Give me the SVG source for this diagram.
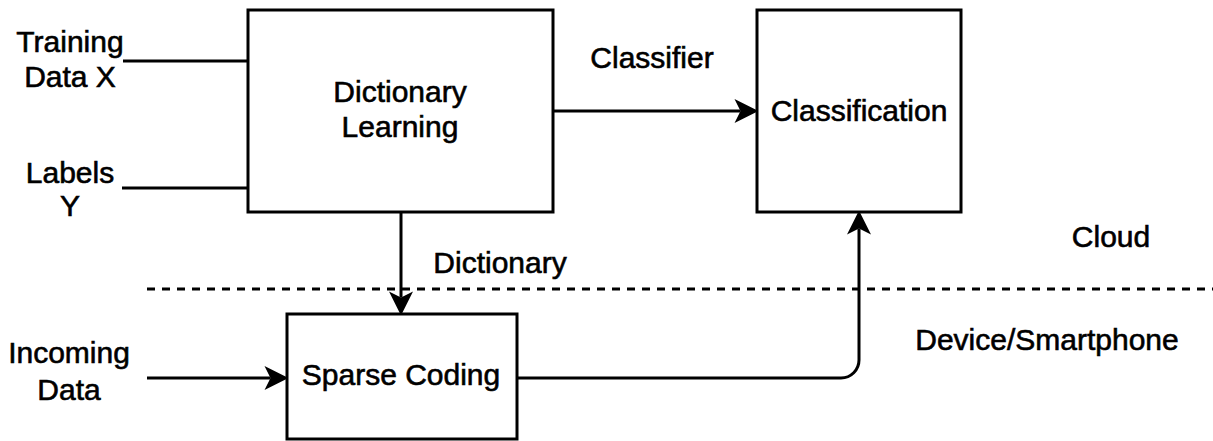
<svg xmlns="http://www.w3.org/2000/svg" width="1213" height="441" viewBox="0 0 1213 441">
<style>
text{font-family:"Liberation Sans",Arial,Helvetica,sans-serif;font-size:30px;fill:#000;stroke:#000;stroke-width:0.6;text-anchor:middle}
.box{fill:#fff;stroke:#000;stroke-width:3}
.ln{fill:none;stroke:#000;stroke-width:3}
.arr{marker-end:url(#ah)}
.dash{fill:none;stroke:#000;stroke-width:3.2;stroke-dasharray:8 7}
</style>
<defs>
<marker id="ah" markerUnits="userSpaceOnUse" markerWidth="24" markerHeight="24" viewBox="0 0 22 22" refX="5.5" refY="11" orient="auto" overflow="visible">
<path d="M0,0 L22,11 L0,22 L5.5,11 Z" fill="#000"/>
</marker>
</defs>
<rect width="1213" height="441" fill="#fff"/>
<g id="connectors">
<path class="ln" d="M123,61 H248"/>
<path class="ln" d="M122,188 H248"/>
<path class="ln arr" d="M553,111 H740.5"/>
<path class="ln arr" d="M401,212 V297.5"/>
<path class="ln arr" d="M147,378 H270.5"/>
<path class="ln arr" d="M517,378 H841 A18,18 0 0 0 859,360 V228.5"/>
<path class="dash" d="M147,289 H1213"/>
</g>
<g id="dictionary-learning">
<rect class="box" x="248" y="10" width="305" height="202"/>
<text x="400" y="102">Dictionary</text>
<text x="400" y="137">Learning</text>
</g>
<g id="classification">
<rect class="box" x="757" y="10" width="204" height="202"/>
<text x="859" y="121">Classification</text>
</g>
<g id="sparse-coding">
<rect class="box" x="287" y="314" width="230" height="125"/>
<text x="401" y="385">Sparse Coding</text>
</g>
<g id="labels">
<text x="70" y="52">Training</text>
<text x="70" y="87">Data X</text>
<text x="70" y="183">Labels</text>
<text x="70" y="216">Y</text>
<text x="69" y="363">Incoming</text>
<text x="69" y="400">Data</text>
<text x="652" y="68">Classifier</text>
<text x="500" y="273">Dictionary</text>
<text x="1111" y="247">Cloud</text>
<text x="1047" y="350">Device/Smartphone</text>
</g>
</svg>
